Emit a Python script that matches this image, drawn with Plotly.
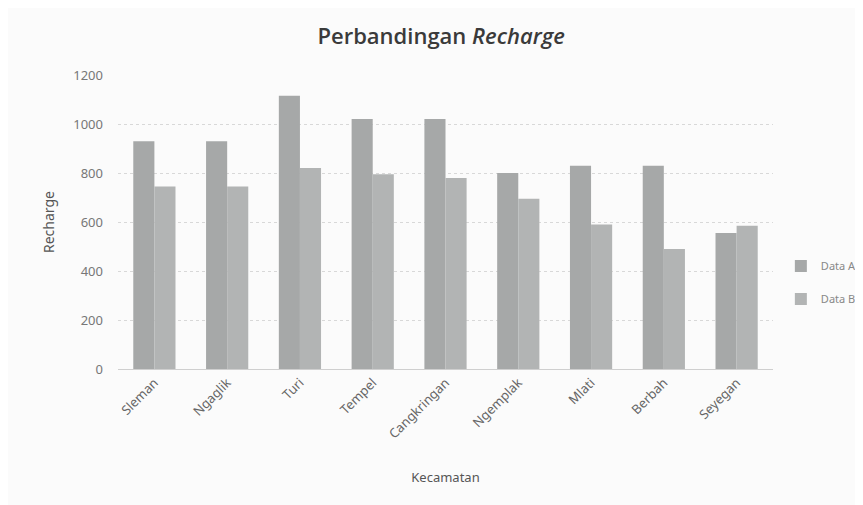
import plotly.graph_objects as go

kecamatan = ["Sleman", "Ngaglik", "Turi", "Tempel", "Cangkringan", "Ngemplak", "Mlati", "Berbah", "Seyegan"]
data_a = [930, 930, 1115, 1020, 1020, 800, 830, 830, 555]
data_b = [745, 745, 820, 795, 780, 695, 590, 490, 585]
y_ticks = [0, 200, 400, 600, 800, 1000, 1200]

fig = go.Figure()
fig.add_trace(go.Bar(x=kecamatan, y=data_a, name="Data A", legendgroup="a",
                     marker=dict(color="#a6a8a8", line=dict(width=0))))
fig.add_trace(go.Bar(x=kecamatan, y=data_b, name="Data B", legendgroup="b",
                     marker=dict(color="#b2b4b4", line=dict(width=0))))

fig.update_layout(
    width=863, height=505,
    paper_bgcolor="#fbfbfb", plot_bgcolor="#fbfbfb",
    margin=dict(l=110, r=98, t=67, b=144, autoexpand=False),
    barmode="group", bargap=0.42, bargroupgap=0,
    title=dict(text="Perbandingan <i>Recharge</i>", x=0.502, xanchor="center", y=0.943, yanchor="middle",
               font=dict(family="Open Sans", size=22, color="#3a3a3a", weight=600)),
    font=dict(family="Noto Sans", size=13, color="#666666"),
    showlegend=True,
    legend=dict(x=1.012, xanchor="left", y=0.40, yanchor="top", bgcolor="rgba(0,0,0,0)",
                font=dict(family="Noto Sans", size=11, color="#888888"),
                tracegroupgap=14, itemwidth=30),
    xaxis=dict(title=dict(text="Kecamatan", font=dict(size=13, color="#555555"), standoff=31),
               tickangle=-45, tickfont=dict(size=13, color="#666666"),
               showline=True, linecolor="#cfcfcf", linewidth=1, ticks=""),
    yaxis=dict(title=dict(text="Recharge", font=dict(size=14, color="#555555"), standoff=15),
               range=[0, 1200], tickvals=y_ticks, tickfont=dict(size=13, color="#777777"),
               ticklabelstandoff=14,
               showgrid=True, gridcolor="#d8d8d8", griddash="dot", gridwidth=1,
               zeroline=False, ticks=""),
)

fig.write_html("out.html")
